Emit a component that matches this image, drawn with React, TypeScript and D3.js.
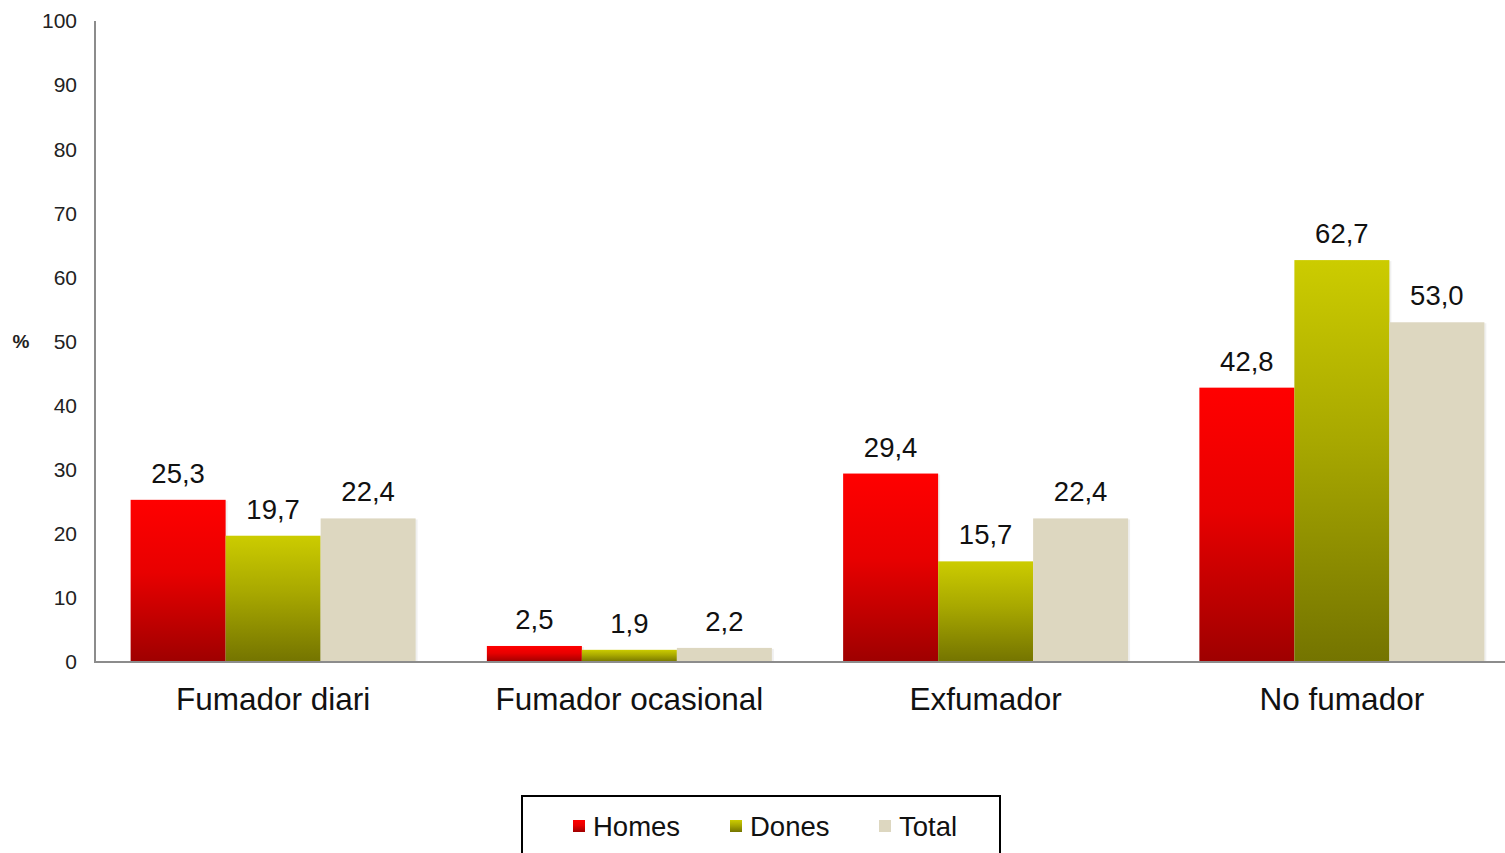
import React from "react";
import * as d3 from "d3";

const categories = ["Fumador diari", "Fumador ocasional", "Exfumador", "No fumador"];
const seriesNames = ["Homes", "Dones", "Total"];
const homes = [25.3, 2.5, 29.4, 42.8];
const dones = [19.7, 1.9, 15.7, 62.7];
const total = [22.4, 2.2, 22.4, 53.0];
const yTicks = [0, 10, 20, 30, 40, 50, 60, 70, 80, 90, 100];

const W = 1505;
const H = 853;
const FONT = "'Liberation Sans', Arial, sans-serif";

export default function App() {
  const series = [homes, dones, total];
  const y = d3.scaleLinear().domain([0, 100]).range([662, 21]);
  const x0 = d3.scaleBand<string>().domain(categories).range([95, 1520]).paddingInner(0.2).paddingOuter(0.1);
  const x1 = d3.scaleBand<string>().domain(seriesNames).range([0, x0.bandwidth()]).padding(0);
  const fills = ["url(#gRed)", "url(#gGreen)", "#ddd7c0"];
  const legendSwatch = ["url(#gRed)", "url(#gGreen)", "#ddd7c0"];
  const fmt = (v: number) => v.toFixed(1).replace(".", ",");
  const legendX = [573, 730, 879];

  return (
    <svg width={W} height={H} style={{ position: "absolute", left: 0, top: 0, background: "#fff" }} fontFamily={FONT}>
      <defs>
        <linearGradient id="gRed" x1="0" y1="0" x2="0" y2="1">
          <stop offset="0" stopColor="#ff0000" />
          <stop offset="0.45" stopColor="#e80000" />
          <stop offset="1" stopColor="#9e0000" />
        </linearGradient>
        <linearGradient id="gGreen" x1="0" y1="0" x2="0" y2="1">
          <stop offset="0" stopColor="#cccc00" />
          <stop offset="0.45" stopColor="#a8a800" />
          <stop offset="1" stopColor="#747400" />
        </linearGradient>
      </defs>
      {yTicks.map((t) => (
        <text key={t} x={77} y={y(t)} dy="0.35em" textAnchor="end" fontSize={21} fill="#222">
          {t}
        </text>
      ))}
      <text x={21} y={y(50)} dy="0.35em" textAnchor="middle" fontSize={19} fontWeight="bold" fill="#222">%</text>
      {categories.map((c, i) => (
        <g key={c} transform={`translate(${x0(c)},0)`}>
          {seriesNames.map((s, j) => {
            const v = series[j][i];
            const bx = x1(s) as number;
            return (
              <g key={s}>
                <rect x={bx + 2} y={y(v) + 1} width={x1.bandwidth()} height={y(0) - y(v) - 1} fill="#000" opacity={0.06} />
                <rect x={bx} y={y(v)} width={x1.bandwidth()} height={y(0) - y(v)} fill={fills[j]} />
                <text x={bx + x1.bandwidth() / 2} y={y(v) - 17} textAnchor="middle" fontSize={27.5} fill="#111">
                  {fmt(v)}
                </text>
              </g>
            );
          })}
          <text x={x0.bandwidth() / 2} y={710} textAnchor="middle" fontSize={31.5} fill="#111">
            {c}
          </text>
        </g>
      ))}
      <line x1={95} x2={95} y1={21} y2={663} stroke="#8c8c8c" strokeWidth={2} />
      <line x1={94} x2={W} y1={662} y2={662} stroke="#8c8c8c" strokeWidth={2} />
      <rect x={522} y={796} width={478} height={80} fill="#fff" stroke="#000" strokeWidth={2} />
      {seriesNames.map((s, j) => (
        <g key={s}>
          <rect x={legendX[j]} y={820} width={12} height={12} fill={legendSwatch[j]} />
          <text x={legendX[j] + 20} y={836} fontSize={27.5} fill="#111">{s}</text>
        </g>
      ))}
    </svg>
  );
}
